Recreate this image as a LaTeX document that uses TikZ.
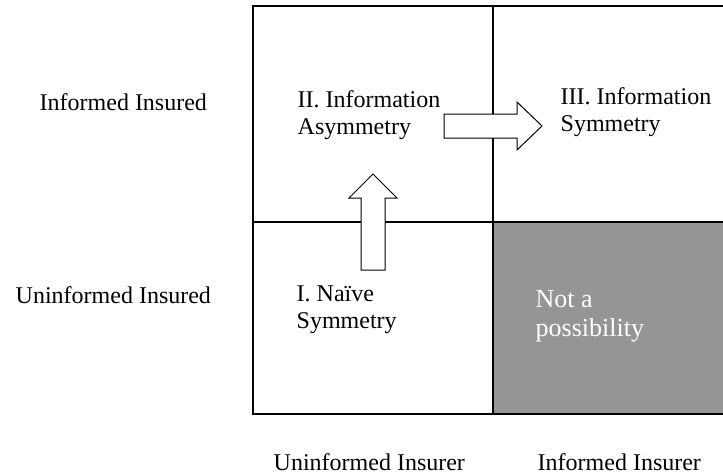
\documentclass[tikz,border=0pt]{standalone}
\usepackage{fontspec}
\setmainfont{Liberation Serif}
\definecolor{cellgray}{HTML}{959595}
\begin{document}
\begin{tikzpicture}[x=1pt,y=-1pt,line width=1.4pt,
  lbl/.style={anchor=base west,inner sep=0pt,align=left,font=\fontsize{24}{27}\selectfont},
  blockarrow/.style={draw,fill=white,line width=1pt,line join=miter}]
\useasboundingbox (0,0) rectangle (723,474);
\begin{scope}
\clip (0,0) rectangle (723,474);
\fill [cellgray] (493,222) rectangle (733,414);
\draw (253,6) rectangle (733,414);
\draw (493,6) -- (493,414);
\draw (253,222) -- (733,222);
\end{scope}
% arrows between the cells
\draw [blockarrow] (361,270) -- (361,198) -- (349,198) -- (373,174) -- (397,198) -- (385,198) -- (385,270) -- cycle;
\draw [blockarrow] (444,114) -- (517,114) -- (517,102) -- (542,126) -- (517,150) -- (517,138) -- (444,138) -- cycle;
% cell texts (base = last line)
\node [lbl] (asym) at (297,134) {II. Information\\Asymmetry};
\node [lbl] (sym) at (560,131) {III. Information\\Symmetry};
\node [lbl] (naive) at (296,328) {I. Na\"ive\\Symmetry};
\node [lbl,text=white,font=\fontsize{26}{29}\selectfont] (none) at (535,336) {Not a\\possibility};
% axis texts
\node [lbl] (insured) at (39,110) {Informed Insured};
\node [lbl] (uninsured) at (15,303) {Uninformed Insured};
\node [lbl] (uninsurer) at (273,470) {Uninformed Insurer};
\node [lbl] (insurer) at (537,470) {Informed Insurer};
\end{tikzpicture}
\end{document}
